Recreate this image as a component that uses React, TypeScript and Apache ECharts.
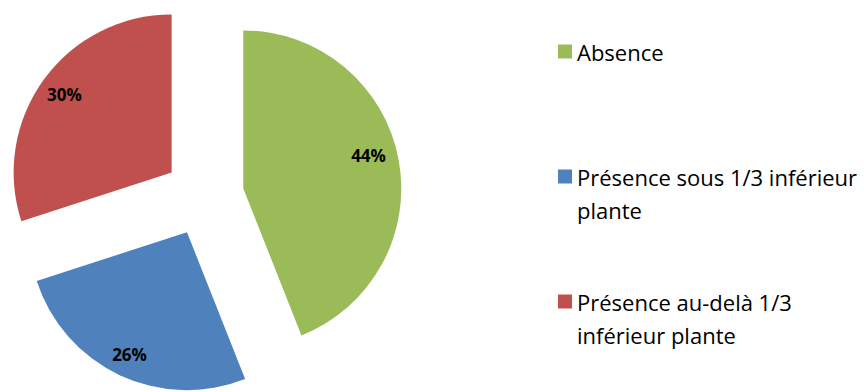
import React, { useEffect, useRef } from "react";
import * as echarts from "echarts";

const categories = [
  "Absence",
  "Présence sous 1/3 inférieur plante",
  "Présence au-delà 1/3 inférieur plante",
];
const values = [44, 26, 30];
const colors = ["#9BBB59", "#4F81BD", "#C0504D"];
const legendTops = [35, 127, 252];
const labelShifts = [[-5, -8], [-1, 2], [0, 0]];

const LEGEND_FONT_SIZE = 22;
const LEGEND_FONT = "Open Sans";
const WRAP_WIDTH = 290;

function wrap(text: string): string[] {
  const c = document.createElement("canvas").getContext("2d")!;
  c.font = `${LEGEND_FONT_SIZE}px "${LEGEND_FONT}"`;
  const words = text.split(" ");
  const lines: string[] = [];
  let cur = "";
  for (const w of words) {
    const t = cur ? cur + " " + w : w;
    if (c.measureText(t).width > WRAP_WIDTH && cur) {
      lines.push(cur);
      cur = w;
    } else cur = t;
  }
  if (cur) lines.push(cur);
  return lines;
}

export default function App() {
  const ref = useRef<HTMLDivElement>(null);
  useEffect(() => {
    document.body.style.margin = "0";
    const chart = echarts.init(ref.current!, null, { renderer: "svg" });
    const center = [204, 196];
    const R = 158;
    const offset = 40;
    const data = categories.map((name, i) => ({
      name,
      value: values[i],
      selected: true,
      itemStyle: { color: colors[i] },
    }));
    const labelData = categories.map((name, i) => ({
      name,
      value: values[i],
      selected: true,
    }));
    const legendFont = {
      fontFamily: LEGEND_FONT,
      fontSize: LEGEND_FONT_SIZE,
      color: "#000",
      lineHeight: 33,
    };
    chart.setOption({
      animation: false,
      legend: categories.map((name, i) => ({
        orient: "vertical",
        left: 558,
        top: legendTops[i],
        padding: 0,
        icon: "rect",
        itemWidth: 14,
        itemHeight: 14,
        selectedMode: false,
        data: [name],
        formatter: (n: string) => {
          const lines = wrap(n);
          return lines.length > 1 ? "\n" + lines.join("\n") : lines[0];
        },
        textStyle: legendFont,
      })),
      series: [
        {
          type: "pie",
          center,
          radius: [0, R],
          startAngle: 90,
          clockwise: true,
          selectedMode: "multiple",
          selectedOffset: offset,
          silent: true,
          label: { show: false },
          labelLine: { show: false },
          itemStyle: { borderWidth: 0 },
          emphasis: { disabled: true },
          data,
        },
        {
          type: "pie",
          center,
          radius: [R * 0.64, R],
          startAngle: 90,
          clockwise: true,
          selectedMode: "multiple",
          selectedOffset: offset,
          silent: true,
          itemStyle: { color: "rgba(0,0,0,0)", borderWidth: 0 },
          emphasis: { disabled: true },
          label: {
            show: true,
            position: "inside",
            formatter: "{c}%",
            fontFamily: "Open Sans",
            fontWeight: "bold",
            fontSize: 17,
            color: "#000",
          },
          labelLayout: (p: any) => ({
            dx: labelShifts[p.dataIndex][0],
            dy: labelShifts[p.dataIndex][1],
          }),
          labelLine: { show: false },
          data: labelData,
        },
      ],
    });
    return () => chart.dispose();
  }, []);
  return <div ref={ref} style={{ width: 864, height: 392 }} />;
}
